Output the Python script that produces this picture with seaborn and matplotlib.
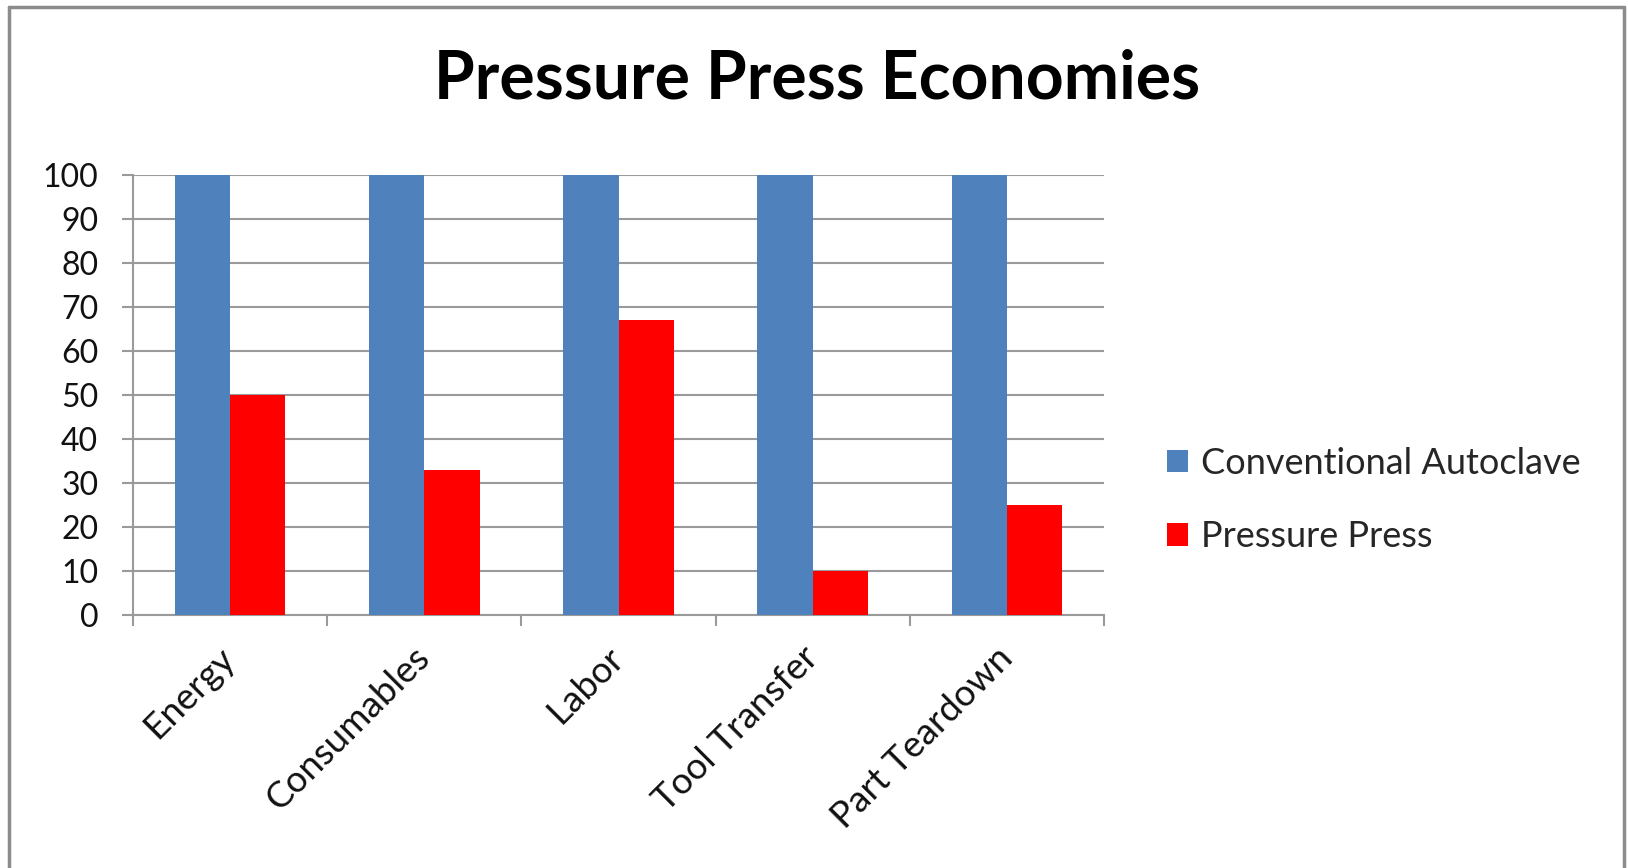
import matplotlib
matplotlib.use("Agg")
import matplotlib.pyplot as plt
from matplotlib.patches import Patch
from matplotlib.lines import Line2D
import seaborn as sns
import pandas as pd
import numpy as np

# Chart data
categories = ["Energy", "Consumables", "Labor", "Tool Transfer", "Part Teardown"]
series_names = ["Conventional Autoclave", "Pressure Press"]
autoclave_values = [100, 100, 100, 100, 100]
press_values = [50, 33, 67, 10, 25]
y_ticks = [0, 10, 20, 30, 40, 50, 60, 70, 80, 90, 100]
title_text = "Pressure Press Economies"

colors = ["#4F81BD", "#FF0000"]
grid_gray = "#9a9a9a"

df = pd.DataFrame({
    "category": categories * 2,
    "value": autoclave_values + press_values,
    "series": [series_names[0]] * len(categories) + [series_names[1]] * len(categories),
})

sns.set_theme(style="white")
plt.rcParams["font.family"] = ["Lato", "DejaVu Sans"]

fig = plt.figure(figsize=(16.28, 8.68), dpi=100)
ax = fig.add_axes([0.0817, 0.2915, 0.5965, 0.5069])

sns.barplot(data=df, x="category", y="value", hue="series", order=categories,
            hue_order=series_names, palette=colors, width=0.57, saturation=1,
            legend=False, ax=ax, edgecolor="none", linewidth=0, zorder=3)

ax.set_xlabel("")
ax.set_ylabel("")
ax.set_ylim(0, 100)
ax.set_xlim(-0.5, len(categories) - 0.5)

# horizontal gridlines
ax.set_yticks(y_ticks)
ax.set_yticklabels([str(v) for v in y_ticks], fontsize=23, color="#111111")
ax.yaxis.grid(True, color=grid_gray, linewidth=1.5, zorder=0)
ax.set_axisbelow(True)

# category boundary ticks (major) and slanted labels on invisible minor ticks
n = len(categories)
ax.set_xticks(np.arange(-0.5, n, 1.0))
ax.set_xticklabels([])
ax.set_xticks(np.arange(n), minor=True)
ax.set_xticklabels(categories, minor=True, rotation=45, ha="right", va="center",
                   rotation_mode="anchor", fontsize=26.5, color="#111111")
ax.tick_params(axis="x", which="major", length=8, width=1.5, color=grid_gray, direction="out")
ax.tick_params(axis="x", which="minor", length=0, pad=27)
ax.tick_params(axis="y", length=8, width=1.5, color=grid_gray, direction="out", pad=17)
ax.tick_params(axis="x", which="major", bottom=True)
ax.tick_params(axis="y", left=True)

for side in ["top", "right"]:
    ax.spines[side].set_visible(False)
for side in ["left", "bottom"]:
    ax.spines[side].set_color(grid_gray)
    ax.spines[side].set_linewidth(1.5)

fig.text(0.502, 0.908, title_text, ha="center", va="center",
         fontsize=47.5, fontweight="bold", color="#000000")

handles = [Patch(facecolor=c, edgecolor="none") for c in colors]
fig.legend(handles, series_names, loc="center left", bbox_to_anchor=(0.706, 0.424),
           frameon=False, fontsize=26, handlelength=0.58, handleheight=0.58,
           handletextpad=0.35, labelspacing=1.13, borderpad=0)

# outer frame (left, top, right)
frame_kw = dict(color="#8c8c8c", linewidth=2.5, transform=fig.transFigure)
fig.add_artist(Line2D([0.0055, 0.0055], [0.0, 0.992], **frame_kw))
fig.add_artist(Line2D([0.0055, 0.9975], [0.992, 0.992], **frame_kw))
fig.add_artist(Line2D([0.9975, 0.9975], [0.0, 0.992], **frame_kw))

fig.savefig("out.png", dpi=100, facecolor="white")
